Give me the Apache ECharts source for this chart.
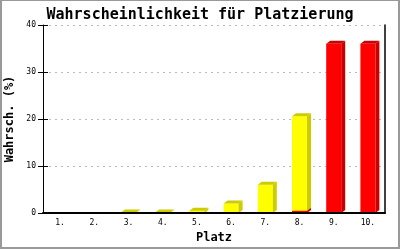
<!DOCTYPE html>
<html>
<head>
<meta charset="utf-8">
<script src="https://cdn.jsdelivr.net/npm/echarts@6/dist/echarts.min.js"></script>
<style>
html,body{margin:0;padding:0;background:#fff;}
#c{width:400px;height:250px;}
</style>
</head>
<body>
<div id="c"></div>
<script>
const categories = ['1.', '2.', '3.', '4.', '5.', '6.', '7.', '8.', '9.', '10.'];
const redValues = [0, 0, 0, 0, 0, 0, 0, 0.5, 36, 36];
const yellowValues = [0, 0, 0.1, 0.1, 0.5, 2.0, 6.0, 20.1, 0, 0];
const yTicks = [0, 10, 20, 30, 40];

const MONO = '"DejaVu Sans Mono", "Liberation Mono", monospace';

function make3D(front, dark) {
  return function (params, api) {
    const i = api.value(0);
    const v = api.value(1);
    const base = api.value(2);
    if (!(v > 0)) return null;
    const p0 = api.coord([i, base]);
    const p1 = api.coord([i, base + v]);
    const half = 7.5, dx = 4, dy = 3;
    const l = p0[0] - half, r = p0[0] + half;
    const yb = p0[1], yt = p1[1];
    return {
      type: 'group',
      children: [
        { type: 'rect', shape: { x: l, y: yt, width: r - l, height: Math.max(yb - yt, 0) }, style: { fill: front } },
        { type: 'polygon', shape: { points: [[l, yt], [l + dx, yt - dy], [r + dx, yt - dy], [r, yt]] }, style: { fill: dark } },
        { type: 'polygon', shape: { points: [[r, yb], [r + dx, yb - dy], [r + dx, yt - dy], [r, yt]] }, style: { fill: dark } }
      ]
    };
  };
}

const redData = redValues.map((v, i) => [i, v, 0]);
const yellowData = yellowValues.map((v, i) => [i, v, redValues[i]]);

const chart = echarts.init(document.getElementById('c'), null, { renderer: 'canvas' });
chart.setOption({
  animation: false,
  backgroundColor: '#ffffff',
  title: {
    text: 'Wahrscheinlichkeit für Platzierung',
    left: 'center',
    top: 3,
    textStyle: { fontFamily: MONO, fontSize: 15, fontWeight: 'bold', color: '#000' }
  },
  grid: { left: 43, right: 15, top: 25, bottom: 37, containLabel: false, outerBoundsMode: 'none' },
  xAxis: {
    type: 'category',
    data: categories,
    boundaryGap: true,
    name: 'Platz',
    nameLocation: 'middle',
    nameGap: 18,
    nameTextStyle: { fontFamily: MONO, fontSize: 12, fontWeight: 'bold', color: '#000' },
    axisLine: { lineStyle: { color: '#000', width: 2 } },
    axisTick: { show: false },
    axisLabel: { fontFamily: MONO, fontSize: 8, color: '#000', margin: 6 },
    splitLine: { show: false },
    z: 5
  },
  yAxis: [
    {
      type: 'value',
      min: yTicks[0],
      max: yTicks[yTicks.length - 1],
      interval: 10,
      name: 'Wahrsch. (%)',
      nameLocation: 'middle',
      nameGap: 21,
      nameTextStyle: { fontFamily: MONO, fontSize: 12, fontWeight: 'bold', color: '#000' },
      axisLine: { show: true, lineStyle: { color: '#000', width: 1 } },
      axisTick: { show: true, length: 5, lineStyle: { color: '#000' } },
      axisLabel: { fontFamily: MONO, fontSize: 8, color: '#000', margin: 7 },
      splitLine: { show: true, lineStyle: { color: '#bbbbbb', type: [2, 4], width: 1 } }
    },
    {
      type: 'value',
      position: 'left',
      min: yTicks[0],
      max: yTicks[yTicks.length - 1],
      interval: 10,
      axisLine: { show: false },
      axisTick: { show: true, inside: true, length: 5, lineStyle: { color: '#000' } },
      axisLabel: { show: false },
      splitLine: { show: false }
    },
    {
      type: 'value',
      position: 'right',
      min: yTicks[0],
      max: yTicks[yTicks.length - 1],
      interval: 10,
      axisLine: { show: true, lineStyle: { color: '#000', width: 1.5 } },
      axisTick: { show: false },
      axisLabel: { show: false },
      splitLine: { show: false }
    }
  ],
  series: [
    {
      type: 'custom',
      name: 'rot',
      coordinateSystem: 'cartesian2d',
      renderItem: make3D('#ff0000', '#cc0000'),
      encode: { x: 0, y: 1 },
      data: redData,
      z: 2
    },
    {
      type: 'custom',
      name: 'gelb',
      coordinateSystem: 'cartesian2d',
      renderItem: make3D('#ffff00', '#cccc00'),
      encode: { x: 0, y: 1 },
      data: yellowData,
      z: 3
    }
  ],
  graphic: [
    {
      type: 'rect',
      shape: { x: 1, y: 0, width: 398, height: 248 },
      style: { fill: 'none', stroke: '#999999', lineWidth: 2 },
      silent: true,
      z: 100
    }
  ]
});
</script>
</body>
</html>
